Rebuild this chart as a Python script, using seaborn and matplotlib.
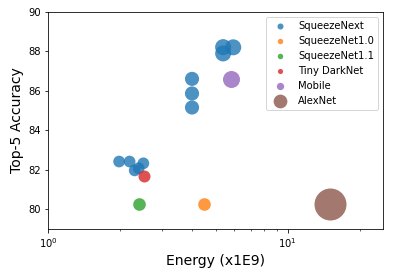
import numpy as np
import matplotlib
matplotlib.use("Agg")
import matplotlib.pyplot as plt
import seaborn as sns

# energy (x1E9), top-5 accuracy, marker area per model family
sqnxt_energy = [1.98, 2.19, 2.30, 2.39, 2.50, 3.99, 3.99, 3.99, 5.38, 5.38, 5.93]
sqnxt_acc = [82.42, 82.42, 81.97, 82.08, 82.33, 86.61, 85.87, 85.16, 88.22, 87.90, 88.21]
sqnxt_size = [137, 137, 137, 137, 137, 200, 200, 200, 256, 256, 256]

sqz10_energy = [4.49]
sqz10_acc = [80.25]
sqz10_size = [160]

sqz11_energy = [2.40]
sqz11_acc = [80.25]
sqz11_size = [160]

darknet_energy = [2.52]
darknet_acc = [81.68]
darknet_size = [144]

mobile_energy = [5.83]
mobile_acc = [86.60]
mobile_size = [289]

alexnet_energy = [15.0]
alexnet_acc = [80.25]
alexnet_size = [1024]

groups = [
    ("SqueezeNext", sqnxt_energy, sqnxt_acc, sqnxt_size),
    ("SqueezeNet1.0", sqz10_energy, sqz10_acc, sqz10_size),
    ("SqueezeNet1.1", sqz11_energy, sqz11_acc, sqz11_size),
    ("Tiny DarkNet", darknet_energy, darknet_acc, darknet_size),
    ("Mobile", mobile_energy, mobile_acc, mobile_size),
    ("AlexNet", alexnet_energy, alexnet_acc, alexnet_size),
]

colors = sns.color_palette("tab10", len(groups))

fig = plt.figure(figsize=(393 / 72, 278 / 72), dpi=72)
ax = fig.add_axes([48 / 393, 49 / 278, 335 / 393, 217 / 278])

for (name, e, a, s), c in zip(groups, colors):
    sns.scatterplot(x=e, y=a, s=np.array(s), color=c, alpha=0.8,
                    linewidth=0, label=name, ax=ax, legend=False)

ax.set_xscale("log")
ax.set_xlim(1, 25)
ax.set_ylim(79, 90)
ax.set_yticks([80, 82, 84, 86, 88, 90])
ax.set_xlabel("Energy (x1E9)", fontsize=14)
ax.set_ylabel("Top-5 Accuracy", fontsize=14)
ax.tick_params(labelsize=10)

ax.legend(loc="upper right", markerscale=0.43, fontsize=10)

fig.savefig("out.png", dpi=72)
